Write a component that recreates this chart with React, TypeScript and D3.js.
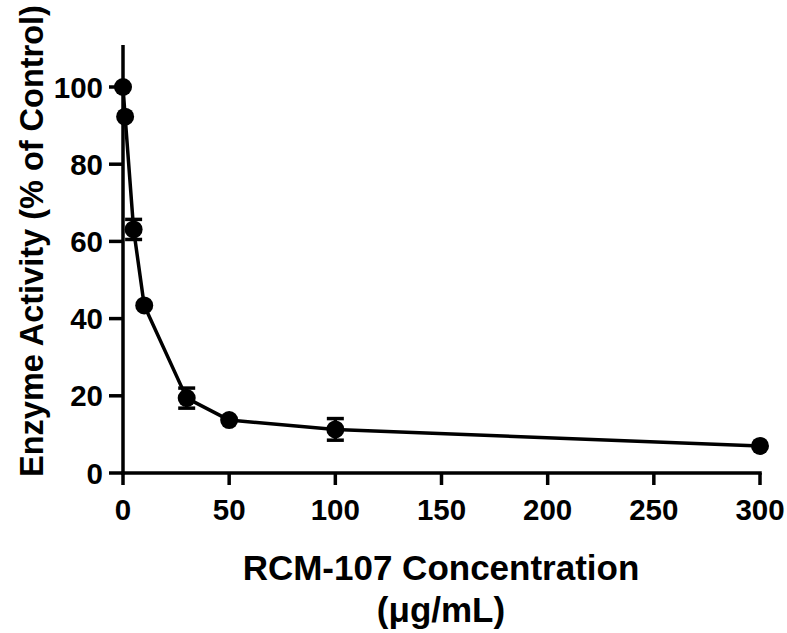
import React from "react";
import * as d3 from "d3";

const concentrations = [0, 1, 5, 10, 30, 50, 100, 300];
const activity = [100, 92.3, 63.1, 43.4, 19.4, 13.7, 11.3, 7.0];
const errors = [0, 0, 2.6, 0, 2.6, 0, 2.8, 0];
const xTicks = [0, 50, 100, 150, 200, 250, 300];
const yTicks = [0, 20, 40, 60, 80, 100];

const W = 787;
const H = 633;
const FONT = "'Liberation Sans', Arial, Helvetica, sans-serif";

export default function App() {
  const x = d3.scaleLinear().domain([0, 300]).range([123, 760]);
  const y = d3.scaleLinear().domain([0, 100]).range([473, 87]);
  const yTop = y.invert(45);

  const pts = concentrations.map((c, i) => ({ c, v: activity[i], e: errors[i] }));
  const line = d3
    .line<{ c: number; v: number }>()
    .x((d) => x(d.c))
    .y((d) => y(d.v));

  return (
    <svg
      width={W}
      height={H}
      style={{ position: "absolute", left: 0, top: 0, background: "#fff" }}
      fontFamily={FONT}
      fontWeight="bold"
    >
      {/* axes */}
      <line x1={x(0)} x2={x(0)} y1={y(yTop)} y2={y(0) + 1.75} stroke="#000" strokeWidth={3.5} />
      <line x1={x(0) - 1.75} x2={x(300) + 1.75} y1={y(0)} y2={y(0)} stroke="#000" strokeWidth={3.5} />
      {yTicks.map((t) => (
        <g key={"y" + t}>
          <line x1={x(0) - 14} x2={x(0)} y1={y(t)} y2={y(t)} stroke="#000" strokeWidth={3.5} />
          <text x={x(0) - 20} y={y(t)} dy="0.36em" textAnchor="end" fontSize={29.5}>
            {t}
          </text>
        </g>
      ))}
      {xTicks.map((t) => (
        <g key={"x" + t}>
          <line x1={x(t)} x2={x(t)} y1={y(0)} y2={y(0) + 12} stroke="#000" strokeWidth={3.5} />
          <text x={x(t)} y={520} textAnchor="middle" fontSize={29.5}>
            {t}
          </text>
        </g>
      ))}
      {/* line */}
      <path d={line(pts) || ""} fill="none" stroke="#000" strokeWidth={3.5} strokeLinejoin="round" />
      {/* error bars */}
      {pts
        .filter((p) => p.e > 0)
        .map((p, i) => (
          <g key={"e" + i} stroke="#000" strokeWidth={3.5}>
            <line x1={x(p.c)} x2={x(p.c)} y1={y(p.v + p.e)} y2={y(p.v - p.e)} />
            <line x1={x(p.c) - 8.5} x2={x(p.c) + 8.5} y1={y(p.v + p.e)} y2={y(p.v + p.e)} />
            <line x1={x(p.c) - 8.5} x2={x(p.c) + 8.5} y1={y(p.v - p.e)} y2={y(p.v - p.e)} />
          </g>
        ))}
      {/* markers */}
      {pts.map((p, i) => (
        <circle key={"p" + i} cx={x(p.c)} cy={y(p.v)} r={9} fill="#000" />
      ))}
      {/* titles */}
      <text
        transform={`translate(43, ${241}) rotate(-90)`}
        textAnchor="middle"
        fontSize={32.5}
      >
        Enzyme Activity (% of Control)
      </text>
      <text x={441} y={580} textAnchor="middle" fontSize={35}>
        RCM-107 Concentration
      </text>
      <text x={441} y={622} textAnchor="middle" fontSize={35}>
        (μg/mL)
      </text>
    </svg>
  );
}
